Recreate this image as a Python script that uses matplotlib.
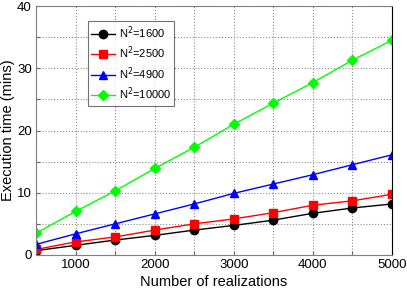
import matplotlib
matplotlib.use("Agg")
import matplotlib.pyplot as plt
from matplotlib.ticker import FixedFormatter, FixedLocator

plt.rcParams["font.family"] = ["Liberation Sans", "DejaVu Sans"]

# ── data ─────────────────────────────────────────────────────────────────────
realizations = [500, 1000, 1500, 2000, 2500, 3000, 3500, 4000, 4500, 5000]
t_1600  = [0.7, 1.55, 2.4, 3.15, 4.0, 4.75, 5.6, 6.7, 7.55, 8.2]
t_2500  = [0.9, 2.1, 2.9, 4.0, 5.0, 5.8, 6.8, 8.0, 8.7, 9.75]
t_4900  = [1.7, 3.4, 5.0, 6.6, 8.2, 9.9, 11.4, 12.9, 14.5, 16.1]
t_10000 = [3.5, 7.0, 10.3, 13.9, 17.3, 21.0, 24.4, 27.7, 31.3, 34.5]

series = [
    (t_1600,  "k", "o", "N$^2$=1600"),
    (t_2500,  "#ff0000", "s", "N$^2$=2500"),
    (t_4900,  "#0000ff", "^", "N$^2$=4900"),
    (t_10000, "#00ff00", "D", "N$^2$=10000"),
]

fig = plt.figure(figsize=(4.07, 2.9), dpi=100)
ax = fig.add_axes([0.0885, 0.1207, 0.8745, 0.8586])

for vals, color, marker, label in series:
    ms = 5 if marker == "D" else 6
    ax.plot(realizations, vals, color=color, marker=marker, ms=ms, lw=1.0,
            label=label)

ax.set_xlim(500, 5000)
ax.set_ylim(0, 40)

# grid every 500 / 5, labels only every 1000 / 10
xt = list(range(500, 5001, 500))
ax.xaxis.set_major_locator(FixedLocator(xt))
ax.xaxis.set_major_formatter(FixedFormatter([str(v) if v % 1000 == 0 else "" for v in xt]))
yt = list(range(0, 41, 5))
ax.yaxis.set_major_locator(FixedLocator(yt))
ax.yaxis.set_major_formatter(FixedFormatter([str(v) if v % 10 == 0 else "" for v in yt]))

ax.tick_params(labelsize=9.5, length=3, direction="in", color="0.4", pad=3)
ax.grid(True, linestyle=":", color="0.55", lw=0.8)
for side in ["left", "top", "bottom"]:
    ax.spines[side].set_color("0.5")
ax.spines["right"].set_color("k")

ax.set_xlabel("Number of realizations", fontsize=10.5, labelpad=3)
ax.set_ylabel("Execution time (mins)", fontsize=10.5)
ax.yaxis.set_label_coords(-0.058, 0.5)

leg = ax.legend(loc="upper left", bbox_to_anchor=(0.145, 0.94), fontsize=8,
                frameon=True, fancybox=False, borderpad=0.3, labelspacing=0.35,
                handlelength=2.2, handletextpad=0.3, borderaxespad=0)
leg.get_frame().set_edgecolor("0.3")
leg.get_frame().set_linewidth(0.8)

fig.savefig("out.png", dpi=100)
